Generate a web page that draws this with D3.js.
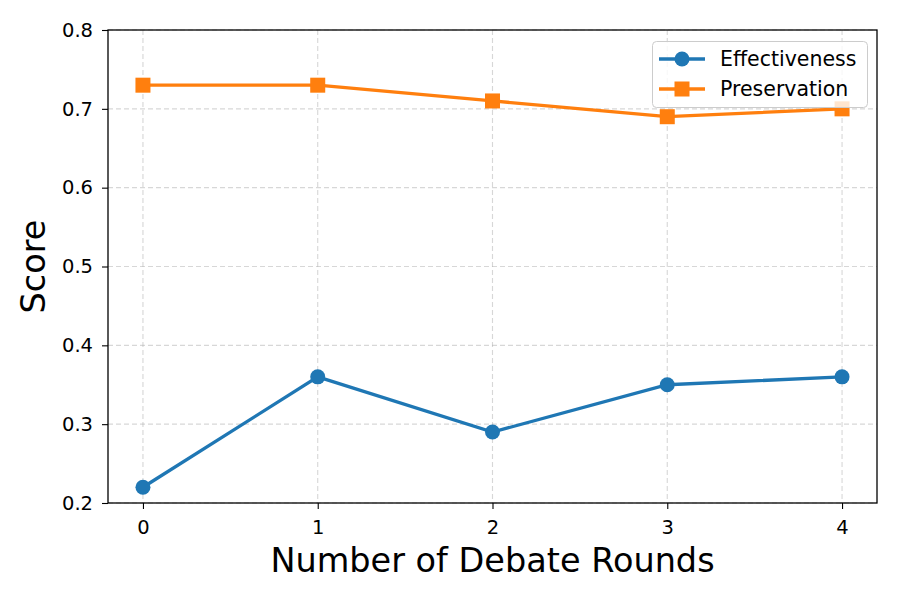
<!DOCTYPE html>
<html><head><meta charset="utf-8">
<script src="https://cdn.jsdelivr.net/npm/d3@7"></script>
<style>body{margin:0;background:#fff;} text{font-family:"DejaVu Sans",sans-serif;}</style>
</head><body><svg id="c" width="900" height="600"></svg>
<script>
const rounds = [0, 1, 2, 3, 4];
const effectiveness = [0.22, 0.36, 0.29, 0.35, 0.36];
const preservation = [0.73, 0.73, 0.71, 0.69, 0.70];
const yTicks = [0.2, 0.3, 0.4, 0.5, 0.6, 0.7, 0.8];
const seriesNames = ["Effectiveness", "Preservation"];
const colors = ["#1f77b4", "#ff7f0e"];

const svg = d3.select("#c");
const L = 108, R = 877, T = 30, B = 503;
const x = d3.scaleLinear().domain([-0.2, 4.2]).range([L, R]);
const y = d3.scaleLinear().domain([0.2, 0.8]).range([B, T]);

// grid
const g = svg.append("g");
g.selectAll(".gx").data(rounds).enter().append("line")
  .attr("x1", d => x(d)).attr("x2", d => x(d)).attr("y1", T).attr("y2", B)
  .attr("stroke", "#b0b0b0").attr("stroke-opacity", 0.5).attr("stroke-width", 1.1).attr("stroke-dasharray", "5,3");
g.selectAll(".gy").data(yTicks).enter().append("line")
  .attr("x1", L).attr("x2", R).attr("y1", d => y(d)).attr("y2", d => y(d))
  .attr("stroke", "#b0b0b0").attr("stroke-opacity", 0.5).attr("stroke-width", 1.1).attr("stroke-dasharray", "5,3");

// axes
const xa = svg.append("g").attr("transform", `translate(0,${B})`)
  .call(d3.axisBottom(x).tickValues(rounds).tickFormat(d3.format("d")).tickSize(6).tickPadding(11).tickSizeOuter(0));
const ya = svg.append("g").attr("transform", `translate(${L},0)`)
  .call(d3.axisLeft(y).tickValues(yTicks).tickFormat(d3.format(".1f")).tickSize(6).tickPadding(9).tickSizeOuter(0));
[xa, ya].forEach(a => {
  a.select(".domain").remove();
  a.selectAll("line").attr("stroke", "#000").attr("stroke-width", 1.1);
  a.selectAll("text").attr("font-size", 19.5).attr("fill", "#000").attr("font-family", "DejaVu Sans");
});

svg.append("rect").attr("x", L).attr("y", T).attr("width", R - L).attr("height", B - T)
  .attr("fill", "none").attr("stroke", "#000").attr("stroke-width", 1.3);

// lines
const line = d3.line().x((d, i) => x(rounds[i])).y(d => y(d));
const data = [effectiveness, preservation];
data.forEach((s, k) => {
  svg.append("path").datum(s).attr("d", line).attr("fill", "none")
    .attr("stroke", colors[k]).attr("stroke-width", 3.3);
});
svg.selectAll(".dot").data(effectiveness).enter().append("circle")
  .attr("cx", (d, i) => x(rounds[i])).attr("cy", d => y(d)).attr("r", 7.5).attr("fill", colors[0]);
svg.selectAll(".sq").data(preservation).enter().append("rect")
  .attr("x", (d, i) => x(rounds[i]) - 7.5).attr("y", d => y(d) - 7.5).attr("width", 15).attr("height", 15).attr("fill", colors[1]);

// labels
svg.append("text").attr("x", (L + R) / 2).attr("y", 572).attr("text-anchor", "middle")
  .attr("font-size", 33.5).text("Number of Debate Rounds");
svg.append("text").attr("transform", `translate(45,${(T + B) / 2}) rotate(-90)`).attr("text-anchor", "middle")
  .attr("font-size", 33.5).text("Score");

// legend
const lg = svg.append("g");
lg.append("rect").attr("x", 652.5).attr("y", 41.5).attr("width", 215).attr("height", 66).attr("rx", 4)
  .attr("fill", "#fff").attr("fill-opacity", 0.8).attr("stroke", "#ccc").attr("stroke-width", 1);
seriesNames.forEach((n, k) => {
  const yy = 59 + k * 30;
  lg.append("line").attr("x1", 659).attr("x2", 705).attr("y1", yy).attr("y2", yy)
    .attr("stroke", colors[k]).attr("stroke-width", 3.3);
  if (k === 0) lg.append("circle").attr("cx", 682).attr("cy", yy).attr("r", 7.5).attr("fill", colors[k]);
  else lg.append("rect").attr("x", 674.5).attr("y", yy - 7.5).attr("width", 15).attr("height", 15).attr("fill", colors[k]);
  lg.append("text").attr("x", 720).attr("y", yy + 7).attr("font-size", 20.5).text(n);
});
</script></body></html>
